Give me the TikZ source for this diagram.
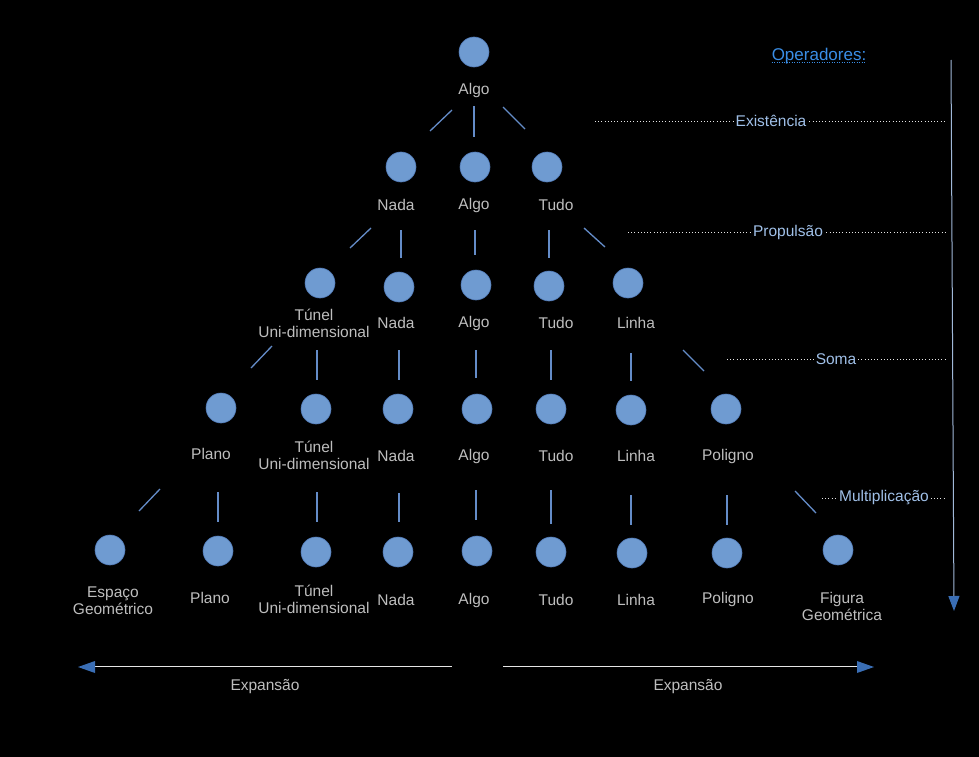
\documentclass[tikz,border=0pt]{standalone}
\usepackage{fontspec}
\setmainfont{Liberation Sans}
\usetikzlibrary{arrows.meta,calc}
\definecolor{circblue}{RGB}{111,155,209}
\definecolor{circedge}{RGB}{80,120,180}
\definecolor{connblue}{RGB}{100,140,200}
\definecolor{txtgray}{RGB}{190,190,190}
\definecolor{oplabel}{RGB}{160,192,232}
\definecolor{opertitle}{RGB}{58,142,230}
\definecolor{arrowblue}{RGB}{58,110,181}
\definecolor{vline}{RGB}{160,184,216}
\tikzset{
  dot/.style={circle,minimum size=30bp,inner sep=0pt,fill=circblue,draw=circedge,line width=0.6bp},
  lbl/.style={text=txtgray,font=\fontsize{15.5bp}{17bp}\selectfont,align=center,inner sep=0pt},
  oplbl/.style={text=oplabel,font=\fontsize{15.5bp}{17bp}\selectfont,inner sep=1bp,fill=black},
  conn/.style={draw=connblue,line width=1.3bp},
  opline/.style={draw=white!90!black,line width=1bp,dash pattern=on 1bp off 2.2bp},
  expline/.style={draw=white!90!black,double=black,double distance=1bp,line width=0.8bp},
}
\begin{document}
\begin{tikzpicture}[x=1bp,y=-1bp]
\fill[black] (0,0) rectangle (979,757);
\useasboundingbox (0,0) rectangle (979,757);

% Row 0
\node[dot] (d0) at (474,52) {};
\node[lbl] (t0) at (474,90) {Algo};

% Row 1
\node[dot] (d1a) at (401,167) {};
\node[dot] (d1b) at (475,167) {};
\node[dot] (d1c) at (547,167) {};
\node[lbl] (t1a) at (396,205) {Nada};
\node[lbl] (t1b) at (474,205) {Algo};
\node[lbl] (t1c) at (556,205) {Tudo};

% Row 2
\node[dot] (d2a) at (320,283) {};
\node[dot] (d2b) at (399,287) {};
\node[dot] (d2c) at (476,285) {};
\node[dot] (d2d) at (549,286) {};
\node[dot] (d2e) at (628,283) {};
\node[lbl] (t2a) at (314,323) {Túnel\\Uni-dimensional};
\node[lbl] (t2b) at (396,323) {Nada};
\node[lbl] (t2c) at (474,323) {Algo};
\node[lbl] (t2d) at (556,323) {Tudo};
\node[lbl] (t2e) at (636,323) {Linha};

% Row 3
\node[dot] (d3a) at (221,408) {};
\node[dot] (d3b) at (316,409) {};
\node[dot] (d3c) at (398,409) {};
\node[dot] (d3d) at (477,409) {};
\node[dot] (d3e) at (551,409) {};
\node[dot] (d3f) at (631,410) {};
\node[dot] (d3g) at (726,409) {};
\node[lbl] (t3a) at (211,454) {Plano};
\node[lbl] (t3b) at (314,455) {Túnel\\Uni-dimensional};
\node[lbl] (t3c) at (396,456) {Nada};
\node[lbl] (t3d) at (474,456) {Algo};
\node[lbl] (t3e) at (556,456) {Tudo};
\node[lbl] (t3f) at (636,456) {Linha};
\node[lbl] (t3g) at (728,456) {Poligno};

% Row 4
\node[dot] (d4a) at (110,550) {};
\node[dot] (d4b) at (218,551) {};
\node[dot] (d4c) at (316,552) {};
\node[dot] (d4d) at (398,552) {};
\node[dot] (d4e) at (477,551) {};
\node[dot] (d4f) at (551,552) {};
\node[dot] (d4g) at (632,553) {};
\node[dot] (d4h) at (727,553) {};
\node[dot] (d4i) at (838,550) {};
\node[lbl] (t4a) at (113,601) {Espaço\\Geométrico};
\node[lbl] (t4b) at (210,598) {Plano};
\node[lbl] (t4c) at (314,599) {Túnel\\Uni-dimensional};
\node[lbl] (t4d) at (396,600) {Nada};
\node[lbl] (t4e) at (474,600) {Algo};
\node[lbl] (t4f) at (556,600) {Tudo};
\node[lbl] (t4g) at (636,600) {Linha};
\node[lbl] (t4h) at (728,599) {Poligno};
\node[lbl] (t4i) at (842,606) {Figura\\Geométrica};

% Connector segments
\foreach \xa/\ya/\xb/\yb in {
  430/131/452/110, 474/106/474/137, 503/107/525/129,
  350/248/371/228, 401/230/401/258, 475/230/475/255, 549/230/549/258, 584/228/605/247,
  251/368/272/346, 317/350/317/380, 399/350/399/380, 476/350/476/378, 551/350/551/380, 631/353/631/381, 683/350/704/371,
  139/511/160/489, 218/492/218/522, 317/492/317/522, 399/493/399/522, 476/490/476/520, 551/490/551/524, 631/495/631/525, 727/495/727/525, 795/491/816/513}
  {\draw[conn] (\xa,\ya) -- (\xb,\yb);}

% Operators
\node[text=opertitle,font=\fontsize{17bp}{19bp}\selectfont,inner sep=0pt] (op) at (819,56) {Operadores:};
\draw[draw=opertitle,line width=0.8bp,dash pattern=on 1bp off 1.5bp] (op.south west) ++(0,-1.5) coordinate (u1) -- (u1 -| op.south east);

\coordinate (e1) at (595,121);
\coordinate (e2) at (944,121);
\draw[opline] (e1) -- (e2);
\node[oplbl] (ex) at (771,121) {Existência};

\coordinate (p1) at (628,232);
\coordinate (p2) at (945,232);
\draw[opline] (p1) -- (p2);
\node[oplbl] (pr) at (788,232) {Propulsão};

\coordinate (s1) at (727,359);
\coordinate (s2) at (946,359);
\draw[opline] (s1) -- (s2);
\node[oplbl] (so) at (836,359) {Soma};

\coordinate (m1) at (822,498);
\coordinate (m2) at (946,498);
\draw[opline] (m1) -- (m2);
\node[oplbl] (mu) at (884,498) {Multiplicação};

% Vertical arrow
\coordinate (v1) at (951,60);
\coordinate (v2) at (954,611);
\draw[draw=vline,line width=1bp,-{Triangle[length=15bp,width=11bp,fill=arrowblue,color=arrowblue]}] (v1) -- (v2);

% Expansion arrows
\coordinate (xl1) at (452,667);
\coordinate (xl2) at (78,667);
\coordinate (xr1) at (503,667);
\coordinate (xr2) at (874,667);
\draw[expline] (xl1) -- ($(xl2)+(14,0)$);
\draw[expline] (xr1) -- ($(xr2)+(-14,0)$);
\fill[arrowblue] (xl2) -- ++(17,-6) -- ++(0,12) -- cycle;
\fill[arrowblue] (xr2) -- ++(-17,-6) -- ++(0,12) -- cycle;
\node[lbl] (ex1) at (265,687) {Expansão};
\node[lbl] (ex2) at (688,687) {Expansão};
\end{tikzpicture}
\end{document}
